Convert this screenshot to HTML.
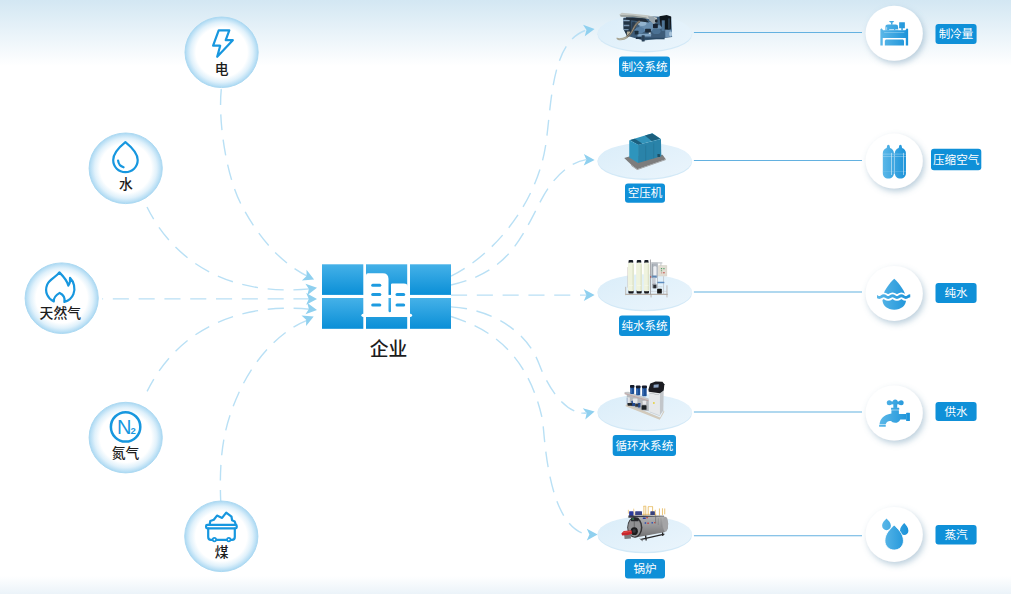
<!DOCTYPE html>
<html><head><meta charset="utf-8"><title>diagram</title>
<style>html,body{margin:0;padding:0;background:#fff}body{width:1011px;height:594px;overflow:hidden;font-family:"Liberation Sans",sans-serif}svg{display:block}</style>
</head><body>
<svg width="1011" height="594" viewBox="0 0 1011 594"><defs>
<linearGradient id="bgTop" x1="0" y1="0" x2="0" y2="1"><stop offset="0" stop-color="#d3e7f3"/><stop offset="1" stop-color="#ffffff"/></linearGradient>
<linearGradient id="bgBot" x1="0" y1="0" x2="0" y2="1"><stop offset="0" stop-color="#ffffff"/><stop offset="1" stop-color="#ebf3f9"/></linearGradient>
<linearGradient id="tile" x1="0" y1="0" x2="0" y2="1"><stop offset="0" stop-color="#45b1e8"/><stop offset="1" stop-color="#0a8fd7"/></linearGradient>
<radialGradient id="glow" cx="0.5" cy="0.5" r="0.5"><stop offset="0" stop-color="#ffffff"/><stop offset="0.70" stop-color="#ffffff"/><stop offset="0.85" stop-color="#e0f1fb"/><stop offset="0.96" stop-color="#b9dff5"/><stop offset="1" stop-color="#aad8f2"/></radialGradient>
<linearGradient id="plat" x1="0" y1="0" x2="1" y2="1"><stop offset="0" stop-color="#daedf9"/><stop offset="1" stop-color="#ebf5fc"/></linearGradient>
<linearGradient id="ico" x1="0" y1="0" x2="1" y2="0"><stop offset="0" stop-color="#55b4e6"/><stop offset="1" stop-color="#1f93d8"/></linearGradient>
<filter id="sh" x="-40%" y="-40%" width="180%" height="180%"><feGaussianBlur in="SourceAlpha" stdDeviation="3.4"/><feOffset dx="1.5" dy="2.5" result="b"/><feFlood flood-color="#6c97b4" flood-opacity="0.46"/><feComposite in2="b" operator="in"/><feMerge><feMergeNode/><feMergeNode in="SourceGraphic"/></feMerge></filter>
<path id="ah" d="M0,0 L-10.8,-5.8 L-8.2,0 L-10.8,5.8 Z"/>
</defs>
<rect width="1011" height="594" fill="#fff"/>
<rect width="1011" height="66" fill="url(#bgTop)"/>
<rect y="576" width="1011" height="18" fill="url(#bgBot)"/>
<path d="M308.1,276.6 C287.1,266.4 260.9,243.9 240.2,202.5 C227.1,176.4 217.8,123.2 221.3,89.0" fill="none" stroke="#b9e0f5" stroke-width="1.4" stroke-dasharray="15.8 9.5" stroke-dashoffset="0"/>
<use href="#ah" fill="#8fd0ef" transform="translate(314.1,279.4) rotate(23.6)"/>
<path d="M309.5,288.9 C228.6,296.5 173.8,261.3 147.0,207.0" fill="none" stroke="#b9e0f5" stroke-width="1.4" stroke-dasharray="16.1 9.7" stroke-dashoffset="0"/>
<use href="#ah" fill="#8fd0ef" transform="translate(317,287.8) rotate(-9)"/>
<path d="M309.5,298.9 L102.2,298.9" fill="none" stroke="#b9e0f5" stroke-width="1.4" stroke-dasharray="16.1 9.7" stroke-dashoffset="0"/>
<use href="#ah" fill="#8fd0ef" transform="translate(317,298.9) rotate(0)"/>
<path d="M309.5,309.3 C285.2,306.6 191.6,301.7 147.1,391.4" fill="none" stroke="#b9e0f5" stroke-width="1.4" stroke-dasharray="16.1 9.7" stroke-dashoffset="0"/>
<use href="#ah" fill="#8fd0ef" transform="translate(317,310.1) rotate(8.4)"/>
<path d="M307.6,320.1 C279.3,331.2 253.7,359.9 239.1,392.3 C226.2,420.7 218.6,447.6 220.7,501" fill="none" stroke="#b9e0f5" stroke-width="1.4" stroke-dasharray="15.8 9.5" stroke-dashoffset="0"/>
<use href="#ah" fill="#8fd0ef" transform="translate(313.7,316.4) rotate(-23.5)"/>
<path d="M451.0,276.2 C496.3,253.3 536.3,202.5 545.4,146.8 C551.8,107.1 549.9,42.1 586.2,30.2" fill="none" stroke="#b9e0f5" stroke-width="1.4" stroke-dasharray="15.8 9.5" stroke-dashoffset="0"/>
<use href="#ah" fill="#8fd0ef" transform="translate(594.6,28.9) rotate(-8.5)"/>
<path d="M451.0,285.0 C507.3,272.1 520.1,240.9 541.4,199.6 C551.7,179.6 568,162.5 586.2,159.6" fill="none" stroke="#b9e0f5" stroke-width="1.4" stroke-dasharray="15.9 9.5" stroke-dashoffset="0"/>
<use href="#ah" fill="#8fd0ef" transform="translate(594.6,160) rotate(1)"/>
<path d="M451,295.1 L586.4,295.1" fill="none" stroke="#b9e0f5" stroke-width="1.4" stroke-dasharray="16.1 9.7" stroke-dashoffset="0"/>
<use href="#ah" fill="#8fd0ef" transform="translate(594.6,295.1) rotate(0)"/>
<path d="M451.0,306.9 C490.2,308.9 526.3,329.9 538.9,363.6 C545.4,380.8 562.6,415.3 587.0,413.2" fill="none" stroke="#b9e0f5" stroke-width="1.4" stroke-dasharray="16.1 9.7" stroke-dashoffset="0"/>
<use href="#ah" fill="#8fd0ef" transform="translate(594.6,411.5) rotate(-12.4)"/>
<path d="M451.0,316.5 C483.6,326.9 526.4,347.3 542.3,418.8 C544.7,429.1 545.9,530.2 589.6,534.9" fill="none" stroke="#b9e0f5" stroke-width="1.4" stroke-dasharray="15.9 9.5" stroke-dashoffset="0"/>
<use href="#ah" fill="#8fd0ef" transform="translate(597.6,534.6) rotate(0)"/>
<path d="M581.3,413.1 L587,413.2" stroke="#b9e0f5" stroke-width="1.4" fill="none"/>
<ellipse cx="221.6" cy="52.3" rx="36.6" ry="35.3" fill="url(#glow)" stroke="#acd9f2" stroke-width="1"/>
<ellipse cx="125.7" cy="168.3" rx="36.6" ry="35.3" fill="url(#glow)" stroke="#acd9f2" stroke-width="1"/>
<ellipse cx="61.7" cy="298.2" rx="36.6" ry="35.3" fill="url(#glow)" stroke="#acd9f2" stroke-width="1"/>
<ellipse cx="125.7" cy="437.6" rx="36.6" ry="35.3" fill="url(#glow)" stroke="#acd9f2" stroke-width="1"/>
<ellipse cx="221.3" cy="536.3" rx="36.6" ry="35.3" fill="url(#glow)" stroke="#acd9f2" stroke-width="1"/>
<rect x="322" y="264.3" width="41.3" height="30.6" fill="url(#tile)"/>
<rect x="322" y="298" width="41.3" height="30.8" fill="url(#tile)"/>
<rect x="366" y="264.3" width="41.2" height="30.6" fill="url(#tile)"/>
<rect x="366" y="298" width="41.2" height="30.8" fill="url(#tile)"/>
<rect x="410" y="264.3" width="41.0" height="30.6" fill="url(#tile)"/>
<rect x="410" y="298" width="41.0" height="30.8" fill="url(#tile)"/>
<ellipse cx="644.8" cy="34.2" rx="47.3" ry="18.2" fill="#d3e9f7"/>
<ellipse cx="644.8" cy="33.2" rx="47.2" ry="17.8" fill="url(#plat)"/>
<ellipse cx="644.8" cy="161.7" rx="47.3" ry="18.2" fill="#d3e9f7"/>
<ellipse cx="644.8" cy="160.7" rx="47.2" ry="17.8" fill="url(#plat)"/>
<ellipse cx="644.8" cy="293.09999999999997" rx="47.3" ry="18.2" fill="#d3e9f7"/>
<ellipse cx="644.8" cy="292.09999999999997" rx="47.2" ry="17.8" fill="url(#plat)"/>
<ellipse cx="644.8" cy="413.09999999999997" rx="47.3" ry="18.2" fill="#d3e9f7"/>
<ellipse cx="644.8" cy="412.09999999999997" rx="47.2" ry="17.8" fill="url(#plat)"/>
<ellipse cx="644.8" cy="535.1" rx="47.3" ry="18.2" fill="#d3e9f7"/>
<ellipse cx="644.8" cy="534.1" rx="47.2" ry="17.8" fill="url(#plat)"/>
<line x1="693.9" y1="32.55" x2="862" y2="32.55" stroke="#63b1e0" stroke-width="1.05"/>
<line x1="693.9" y1="160.45" x2="862" y2="160.45" stroke="#63b1e0" stroke-width="1.05"/>
<line x1="693.9" y1="291.95" x2="862" y2="291.95" stroke="#63b1e0" stroke-width="1.05"/>
<line x1="693.9" y1="412.05" x2="862" y2="412.05" stroke="#63b1e0" stroke-width="1.05"/>
<line x1="693.9" y1="535.65" x2="862" y2="535.65" stroke="#63b1e0" stroke-width="1.05"/>
<ellipse cx="894.2" cy="33.3" rx="28.6" ry="27.5" fill="#fff" filter="url(#sh)"/>
<ellipse cx="894.2" cy="161.1" rx="28.6" ry="27.5" fill="#fff" filter="url(#sh)"/>
<ellipse cx="894.2" cy="293.4" rx="28.6" ry="27.5" fill="#fff" filter="url(#sh)"/>
<ellipse cx="894.2" cy="413" rx="28.6" ry="27.5" fill="#fff" filter="url(#sh)"/>
<ellipse cx="894.2" cy="534.4" rx="28.6" ry="27.5" fill="#fff" filter="url(#sh)"/>
<rect x="619" y="56.4" width="51.0" height="20.6" rx="3" fill="#0f90d8"/>
<text x="621.40" y="70.86" font-family="'Liberation Sans','Noto Sans CJK SC',sans-serif" font-size="11.55" fill="#fff">制冷系统</text>
<rect x="625" y="183.6" width="40.0" height="19.2" rx="3" fill="#0f90d8"/>
<text x="627.67" y="197.36" font-family="'Liberation Sans','Noto Sans CJK SC',sans-serif" font-size="11.55" fill="#fff">空压机</text>
<rect x="619" y="315.5" width="51.0" height="20.5" rx="3" fill="#0f90d8"/>
<text x="621.40" y="329.91" font-family="'Liberation Sans','Noto Sans CJK SC',sans-serif" font-size="11.55" fill="#fff">纯水系统</text>
<rect x="612.7" y="435" width="63.3" height="21.0" rx="3" fill="#0f90d8"/>
<text x="615.48" y="449.66" font-family="'Liberation Sans','Noto Sans CJK SC',sans-serif" font-size="11.55" fill="#fff">循环水系统</text>
<rect x="625" y="559" width="40.0" height="19.6" rx="3" fill="#0f90d8"/>
<text x="633.45" y="572.96" font-family="'Liberation Sans','Noto Sans CJK SC',sans-serif" font-size="11.55" fill="#fff">锅炉</text>
<rect x="935.5" y="24" width="41.1" height="20.0" rx="3" fill="#0f90d8"/>
<text x="938.72" y="38.16" font-family="'Liberation Sans','Noto Sans CJK SC',sans-serif" font-size="11.55" fill="#fff">制冷量</text>
<rect x="931" y="148.7" width="50.3" height="21.5" rx="3" fill="#0f90d8"/>
<text x="933.05" y="163.61" font-family="'Liberation Sans','Noto Sans CJK SC',sans-serif" font-size="11.55" fill="#fff">压缩空气</text>
<rect x="935.5" y="283" width="41.1" height="20.0" rx="3" fill="#0f90d8"/>
<text x="944.50" y="297.16" font-family="'Liberation Sans','Noto Sans CJK SC',sans-serif" font-size="11.55" fill="#fff">纯水</text>
<rect x="935.5" y="402" width="41.1" height="19.0" rx="3" fill="#0f90d8"/>
<text x="944.50" y="415.66" font-family="'Liberation Sans','Noto Sans CJK SC',sans-serif" font-size="11.55" fill="#fff">供水</text>
<rect x="935.5" y="525" width="41.1" height="19.4" rx="3" fill="#0f90d8"/>
<text x="944.50" y="538.86" font-family="'Liberation Sans','Noto Sans CJK SC',sans-serif" font-size="11.55" fill="#fff">蒸汽</text>
<text x="214.70" y="73.60" font-family="'Liberation Sans','Noto Sans CJK SC',sans-serif" font-size="13.8" font-weight="500" fill="#1c1c1c">电</text>
<text x="118.90" y="189.10" font-family="'Liberation Sans','Noto Sans CJK SC',sans-serif" font-size="13.8" font-weight="500" fill="#1c1c1c">水</text>
<text x="39.60" y="318.10" font-family="'Liberation Sans','Noto Sans CJK SC',sans-serif" font-size="13.8" font-weight="500" fill="#1c1c1c">天然气</text>
<text x="111.70" y="457.70" font-family="'Liberation Sans','Noto Sans CJK SC',sans-serif" font-size="13.8" font-weight="500" fill="#1c1c1c">氮气</text>
<text x="214.70" y="557.30" font-family="'Liberation Sans','Noto Sans CJK SC',sans-serif" font-size="13.8" font-weight="500" fill="#1c1c1c">煤</text>
<text x="369.85" y="355.50" font-family="'Liberation Sans','Noto Sans CJK SC',sans-serif" font-size="18.8" font-weight="500" fill="#1c1c1c">企业</text>
<path fill="none" stroke="#1797df" stroke-width="2.2" stroke-linejoin="round" stroke-linecap="round" d="M218.7,30.3 L229.3,30.3 L225.7,40.2 L232.8,40.2 L217.2,56.8 L220.2,45.7 L213.1,45.7 Z"/>
<path fill="none" stroke="#1797df" stroke-width="2.2" stroke-linejoin="round" stroke-linecap="round" stroke-width="2.4" d="M125.4,142.1 C131,146.6 137.7,152.6 137.7,160 C137.7,167 132.2,172.1 125.4,172.1 C118.6,172.1 113.2,167 113.2,160 C113.2,152.6 119.8,146.6 125.4,142.1 Z"/>
<path fill="none" stroke="#1797df" stroke-width="2.2" stroke-linejoin="round" stroke-linecap="round" stroke-width="2" d="M118.1,160.7 C118.5,164 120.6,166.4 123.6,167.3"/>
<path fill="none" stroke="#1797df" stroke-width="2.2" stroke-linejoin="round" stroke-linecap="round" d="M53.8,301.5 C47.6,298.7 44.4,291.7 47.1,284.8 C49.6,278.8 56.4,277 59.4,272.4 C63,276 67.2,280.4 68.3,285.6 C69.9,283.4 70.4,280.4 70,277.9 C74,281.8 75.6,288.4 73.4,294.2 C72,297.8 68.6,300.8 64.4,301.9 C65.2,297.9 63.3,294.6 59.7,292.9 C56.1,295 53.4,297.6 53.8,301.5 Z"/>
<circle cx="125.6" cy="426.9" r="14.7" fill="none" stroke="#1797df" stroke-width="2.5"/>
<text x="117.1" y="433.8" font-family="Liberation Sans, sans-serif" font-size="20" fill="#1797df">N</text>
<text x="130.6" y="433.9" font-family="Liberation Sans, sans-serif" font-size="9.5" font-weight="bold" fill="#1797df">2</text>
<path fill="none" stroke="#1797df" stroke-width="2.2" stroke-linejoin="round" stroke-linecap="round" d="M209.7,524.2 L210.3,521 L213.8,519.7 L217,515.6 L222.1,517.9 L226.2,512.6 L231.5,516.7 L232.1,520.3 L234.7,521.5 L235.6,524.2"/>
<rect x="206.1" y="524.9" width="30.6" height="3.4" rx="1" fill="none" stroke="#1797df" stroke-width="2.2" stroke-linejoin="round" stroke-linecap="round"/>
<path fill="none" stroke="#1797df" stroke-width="2.2" stroke-linejoin="round" stroke-linecap="round" d="M208.2,528.5 L208.2,537 Q208.2,539.8 211,539.8 L232,539.8 Q234.8,539.8 234.8,537 L234.8,528.5"/>
<circle cx="214.4" cy="539.6" r="1.7" fill="#fff" stroke="#1797df" stroke-width="1.7"/>
<circle cx="228.8" cy="539.6" r="1.7" fill="#fff" stroke="#1797df" stroke-width="1.7"/>
<path fill="#ffffff" d="M366,314 L366,275.3 Q366,273.3 368,273.3 L382.8,273.3 Q388.5,273.3 388.5,279 L388.5,314 Z"/>
<path fill="#ffffff" d="M391,314 L391,284.6 Q391,283.4 392.2,283.4 L403.8,283.4 Q408.1,283.4 408.1,287.7 L408.1,314 Z"/>
<path fill="#ffffff" d="M388,314 L388,311 Q389.75,313.6 391.5,311 L391.5,314 Z"/>
<rect x="361.4" y="313.7" width="50.7" height="3.2" rx="1.6" fill="#ffffff"/>
<rect x="371.2" y="283.7" width="10.1" height="3" rx="1.5" fill="#1d9be0"/>
<rect x="371.2" y="293.1" width="10.1" height="3" rx="1.5" fill="#1d9be0"/>
<rect x="371.2" y="303.6" width="10.1" height="3" rx="1.5" fill="#1d9be0"/>
<rect x="395.5" y="293.1" width="9.7" height="3" rx="1.5" fill="#1d9be0"/>
<rect x="395.5" y="303.6" width="9.7" height="3" rx="1.5" fill="#1d9be0"/>
<filter id="mb" x="-5%" y="-5%" width="110%" height="110%"><feGaussianBlur stdDeviation="6"/></filter>
<g transform="translate(612,8) scale(0.06925)" filter="url(#mb)"><polygon points="165,140 500,120 700,128 855,130 868,420 700,442 460,470 350,440 215,400 165,300" fill="#3d5c79" /><polygon points="165,150 275,150 285,350 215,400 170,310" fill="#243444" /><rect x="160" y="168" width="95" height="24" rx="4" fill="#86a4be" /><rect x="165" y="242" width="85" height="22" rx="4" fill="#7593ae" /><rect x="170" y="302" width="70" height="20" rx="4" fill="#7290ab" /><rect x="215" y="340" width="47" height="62" rx="6" fill="#b5af9a" /><ellipse cx="520" cy="270" rx="125" ry="72" fill="#6a8fb0" /><ellipse cx="435" cy="222" rx="62" ry="38" fill="#93b3ce" /><ellipse cx="400" cy="322" rx="72" ry="46" fill="#587fa3" /><rect x="368" y="372" width="197" height="40" rx="8" fill="#7ea2c2" /><ellipse cx="640" cy="335" rx="62" ry="42" fill="#4c7193" /><ellipse cx="545" cy="362" rx="16" ry="14" fill="#dfe8ee" /><rect x="600" y="250" width="120" height="50" rx="10" fill="#6d92b4" /><rect x="478" y="298" width="84" height="54" rx="10" fill="#1b2a38" /><rect x="592" y="228" width="70" height="64" rx="10" fill="#182430" /><rect x="328" y="328" width="54" height="54" rx="8" fill="#1f2e3b" /><rect x="428" y="395" width="44" height="87" rx="4" fill="#2a4157" /><rect x="345" y="420" width="80" height="28" rx="0" fill="#22364a" /><rect x="470" y="430" width="290" height="22" rx="0" fill="#2b4964" /><rect x="290" y="200" width="50" height="100" rx="8" fill="#2a3d50" /><polygon points="685,120 790,102 854,124 848,302 765,324 702,258" fill="#10161c" /><rect x="718" y="178" width="44" height="154" rx="0" fill="#4f7496" /><rect x="808" y="150" width="28" height="150" rx="0" fill="#263a4c" /><polygon points="768,310 862,320 868,412 770,426" fill="#6f94b5" /><ellipse cx="846" cy="375" rx="22" ry="36" fill="#a9c4da" /><polygon points="105,97 140,70 300,84 520,106 652,140 645,190 590,172 480,148 300,130 130,128" fill="#c3c7c3" /><polygon points="205,132 480,150 535,208 300,180 200,162" fill="#222e3a" /><polygon points="118,106 300,110 500,136 500,152 300,129 124,124" fill="#8c9492" /><polygon points="520,118 605,130 655,200 602,232 540,182" fill="#9aa6ae" /><ellipse cx="640" cy="186" rx="20" ry="24" fill="#1a232b" /><path d="M395,195 C300,250 310,370 215,415" fill="none" stroke="#5f5a52" stroke-width="30" stroke-linecap="round"/><path d="M395,195 C300,250 310,370 215,415" fill="none" stroke="#a39c8c" stroke-width="12" stroke-linecap="round" stroke-dasharray="14 12"/><path d="M215,415 C160,438 100,452 72,436 C80,470 170,465 215,430" fill="none" stroke="#a8a594" stroke-width="16" stroke-linecap="round" stroke-linejoin="round"/></g>
<g transform="translate(612,128) scale(0.08413)" filter="url(#mb)"><polygon points="145,358 205,340 600,318 640,370 300,490 232,440" fill="#7d7d7d" /><polygon points="232,440 300,490 640,372 640,380 300,500 228,448" fill="#9a9a9a" /><polygon points="205,145 310,200 310,415 205,352" fill="#2f95bd" /><polygon points="310,200 582,130 586,335 310,415" fill="#2983a9" /><polygon points="205,145 480,62 582,130 310,200" fill="#3093ba" /><polygon points="218,142 272,127 360,185 312,198" fill="#1e5f7d" /><polygon points="392,90 478,64 572,127 472,156" fill="#1e5f7d" /><line x1="400" y1="208" x2="400" y2="390" stroke="#226d8d" stroke-width="5" /><line x1="495" y1="185" x2="495" y2="362" stroke="#226d8d" stroke-width="5" /><line x1="310" y1="200" x2="310" y2="415" stroke="#35a0c8" stroke-width="3" /><rect x="540" y="310" width="30" height="35" rx="4" fill="#1e4f66" /></g>
<g transform="translate(620,255) scale(0.07576)" filter="url(#mb)"><line x1="75" y1="420" x2="75" y2="530" stroke="#b4aca4" stroke-width="10" /><line x1="100" y1="160" x2="100" y2="430" stroke="#c0b8b0" stroke-width="6" /><line x1="70" y1="520" x2="630" y2="520" stroke="#b8b0a8" stroke-width="14" /><line x1="410" y1="520" x2="410" y2="560" stroke="#a8a09a" stroke-width="10" /><line x1="620" y1="400" x2="620" y2="560" stroke="#b0a8a2" stroke-width="10" /><line x1="402" y1="60" x2="402" y2="520" stroke="#9c9ca0" stroke-width="12" /><line x1="575" y1="280" x2="575" y2="520" stroke="#b4b4b8" stroke-width="8" /><line x1="410" y1="480" x2="620" y2="480" stroke="#c0c0c4" stroke-width="6" /><rect x="415" y="100" width="85" height="200" rx="6" fill="#aeb4bc" /><rect x="440" y="150" width="42" height="200" rx="14" fill="#eef0f4" /><rect x="418" y="270" width="67" height="30" rx="4" fill="#5c86b4" /><rect x="488" y="352" width="97" height="20" rx="3" fill="#5c8cc0" /><rect x="420" y="300" width="50" height="140" rx="6" fill="#c8ccd4" /><rect x="430" y="380" width="50" height="60" rx="6" fill="#8c9098" /><rect x="410" y="95" width="150" height="17" rx="4" fill="#c4c8cc" /><rect x="505" y="135" width="117" height="147" rx="4" fill="#d8d4ca" /><rect x="512" y="142" width="103" height="133" rx="3" fill="#e0dcd2" /><ellipse cx="548" cy="180" rx="9" ry="8" fill="#3f9a5c" /><ellipse cx="580" cy="180" rx="9" ry="8" fill="#3f9a5c" /><ellipse cx="548" cy="208" rx="9" ry="8" fill="#4a9a60" /><ellipse cx="580" cy="235" rx="10" ry="9" fill="#c4423c" /><ellipse cx="550" cy="235" rx="9" ry="8" fill="#c89088" /><rect x="490" y="445" width="62" height="63" rx="8" fill="#161616" /><ellipse cx="405" cy="290" rx="8" ry="8" fill="#c03030" /><line x1="425" y1="120" x2="425" y2="300" stroke="#8a9098" stroke-width="8" /><line x1="495" y1="300" x2="495" y2="445" stroke="#a4a8b0" stroke-width="8" /><line x1="420" y1="420" x2="560" y2="420" stroke="#b4b8bc" stroke-width="6" /><rect x="440" y="395" width="40" height="45" rx="6" fill="#2a2e34" /><line x1="540" y1="110" x2="540" y2="140" stroke="#9aa0a8" stroke-width="8" /><rect x="113" y="65" width="61" height="50" rx="14" fill="#141a24" /><rect x="111" y="455" width="69" height="53" rx="12" fill="#16181c" /><rect x="105" y="100" width="81" height="380" rx="26" fill="#eff3de" /><rect x="164" y="120" width="18" height="345" rx="10" fill="#dde2c8" /><rect x="117" y="395" width="57" height="7" rx="3" fill="#fafcf0" /><rect x="221" y="65" width="59" height="50" rx="14" fill="#141a24" /><rect x="219" y="455" width="67" height="53" rx="12" fill="#16181c" /><rect x="213" y="100" width="79" height="380" rx="26" fill="#eff3de" /><rect x="270" y="120" width="18" height="345" rx="10" fill="#dde2c8" /><rect x="225" y="395" width="55" height="7" rx="3" fill="#fafcf0" /><rect x="321" y="65" width="55" height="50" rx="14" fill="#141a24" /><rect x="319" y="455" width="63" height="53" rx="12" fill="#16181c" /><rect x="313" y="100" width="75" height="380" rx="26" fill="#eff3de" /><rect x="366" y="120" width="18" height="345" rx="10" fill="#dde2c8" /><rect x="325" y="395" width="51" height="7" rx="3" fill="#fafcf0" /></g>
<g transform="translate(620,378) scale(0.07576)" filter="url(#mb)"><polygon points="75,355 100,340 530,520 580,425 585,445 525,550 75,372" fill="#d2cabc" /><polygon points="90,200 380,290 380,440 300,430 90,350" fill="#b4b8bc" /><polygon points="60,185 110,180 380,270 380,300 60,215" fill="#c4c6c8" /><line x1="62" y1="205" x2="375" y2="300" stroke="#c06058" stroke-width="4" /><rect x="150" y="300" width="50" height="70" rx="6" fill="#24488c" /><rect x="235" y="330" width="35" height="60" rx="6" fill="#28488a" /><rect x="100" y="330" width="60" height="35" rx="6" fill="#22262a" /><rect x="285" y="360" width="65" height="60" rx="8" fill="#1e2226" /><rect x="200" y="340" width="40" height="40" rx="6" fill="#30343a" /><rect x="170" y="270" width="60" height="60" rx="10" fill="#e4e6e8" /><rect x="300" y="300" width="45" height="50" rx="8" fill="#e8e8ea" /><rect x="90" y="255" width="40" height="75" rx="6" fill="#dfe3e6" /><line x1="95" y1="260" x2="95" y2="340" stroke="#3a62a4" stroke-width="5" /><rect x="135" y="98" width="52" height="114" rx="10" fill="#1e4f96" /><rect x="132" y="92" width="58" height="36" rx="10" fill="#141c2c" /><rect x="143" y="138" width="12" height="64" rx="4" fill="#3f74bc" /><rect x="213" y="104" width="54" height="124" rx="10" fill="#1e4f96" /><rect x="210" y="98" width="60" height="36" rx="10" fill="#141c2c" /><rect x="221" y="144" width="12" height="74" rx="4" fill="#3f74bc" /><rect x="293" y="104" width="59" height="136" rx="10" fill="#1e4f96" /><rect x="290" y="98" width="65" height="36" rx="10" fill="#141c2c" /><rect x="301" y="144" width="12" height="86" rx="4" fill="#3f74bc" /><polygon points="380,180 527,200 527,492 386,440" fill="#e6e8ea" /><polygon points="527,200 577,165 572,430 527,492" fill="#c2c6ca" /><polygon points="392,200 515,217 515,222 392,205" fill="#70747a" /><polygon points="375,152 400,72 470,45 560,50 586,82 577,165 527,200 380,180" fill="#1a1c20" /><polygon points="445,88 512,84 508,124 442,128" fill="#8ea4c4" /><ellipse cx="447" cy="330" rx="12" ry="12" fill="#e6d23c" /><polygon points="386,440 527,492 527,505 386,452" fill="#cfd2d6" /></g>
<g transform="translate(617,503) scale(0.07576)" filter="url(#mb)"><line x1="355" y1="40" x2="355" y2="170" stroke="#e2aa3a" stroke-width="9" /><line x1="380" y1="45" x2="380" y2="165" stroke="#e2aa3a" stroke-width="9" /><line x1="412" y1="50" x2="412" y2="160" stroke="#e2aa3a" stroke-width="9" /><line x1="470" y1="48" x2="470" y2="160" stroke="#e2aa3a" stroke-width="9" /><line x1="505" y1="90" x2="505" y2="185" stroke="#e2aa3a" stroke-width="9" /><line x1="560" y1="72" x2="560" y2="165" stroke="#e2aa3a" stroke-width="9" /><line x1="600" y1="70" x2="600" y2="160" stroke="#e2aa3a" stroke-width="9" /><line x1="630" y1="72" x2="630" y2="150" stroke="#e2aa3a" stroke-width="9" /><line x1="350" y1="42" x2="385" y2="42" stroke="#e2aa3a" stroke-width="8" /><line x1="410" y1="48" x2="472" y2="48" stroke="#e2aa3a" stroke-width="8" /><line x1="150" y1="90" x2="150" y2="140" stroke="#e2aa3a" stroke-width="7" /><line x1="220" y1="75" x2="225" y2="150" stroke="#e2aa3a" stroke-width="7" /><line x1="230" y1="150" x2="520" y2="150" stroke="#d8a640" stroke-width="8" /><rect x="160" y="108" width="58" height="74" rx="8" fill="#2b3a9c" /><rect x="240" y="110" width="90" height="50" rx="6" fill="#3a4488" /><rect x="440" y="110" width="60" height="50" rx="6" fill="#38427c" /><polygon points="150,165 620,168 625,190 150,195" fill="#3a3c44" /><line x1="320" y1="480" x2="625" y2="410" stroke="#262628" stroke-width="16" /><line x1="375" y1="410" x2="385" y2="495" stroke="#262628" stroke-width="18" /><line x1="598" y1="370" x2="605" y2="435" stroke="#262628" stroke-width="16" /><line x1="300" y1="470" x2="340" y2="500" stroke="#3a3a3c" stroke-width="10" /><linearGradient id="blr" x1="0" y1="0" x2="0" y2="1"><stop offset="0" stop-color="#b2b2b2"/><stop offset="0.5" stop-color="#949496"/><stop offset="1" stop-color="#707072"/></linearGradient><polygon points="235,188 615,176 655,205 675,270 668,340 625,385 300,445 235,455" fill="url(#blr)" /><ellipse cx="640" cy="280" rx="35" ry="100" fill="#a4a4a6" /><ellipse cx="235" cy="322" rx="100" ry="136" fill="#343436" /><ellipse cx="231" cy="322" rx="84" ry="122" fill="#909092" /><rect x="185" y="195" width="100" height="45" rx="6" fill="#26282c" /><rect x="195" y="205" width="30" height="13" rx="3" fill="#38a058" /><line x1="228" y1="240" x2="228" y2="330" stroke="#3a3a3c" stroke-width="6" /><ellipse cx="228" cy="372" rx="47" ry="52" fill="#1c1c1e" /><ellipse cx="226" cy="368" rx="22" ry="26" fill="#38383c" /><rect x="340" y="190" width="40" height="20" rx="4" fill="#2c3c9c" /><rect x="385" y="188" width="25" height="12" rx="3" fill="#c83030" /><rect x="365" y="255" width="20" height="20" rx="4" fill="#2c4cb0" /><rect x="400" y="258" width="20" height="18" rx="4" fill="#c83838" /><rect x="455" y="252" width="20" height="18" rx="4" fill="#3050b0" /><rect x="490" y="250" width="15" height="18" rx="4" fill="#c84040" /><line x1="510" y1="180" x2="510" y2="270" stroke="#3a3a3c" stroke-width="5" /><line x1="545" y1="200" x2="545" y2="290" stroke="#6a6a6e" stroke-width="5" /><line x1="580" y1="200" x2="585" y2="320" stroke="#7a7a7e" stroke-width="5" /><polygon points="95,420 180,410 185,470 100,475" fill="#7c7c7e" /><polygon points="58,402 90,370 192,360 202,402 150,424 68,428" fill="#c9282e" /><polygon points="70,392 100,376 185,368 188,380 100,392" fill="#e2504a" /></g>
<g transform="translate(869,8) scale(0.08418)"><linearGradient id="g1" gradientUnits="userSpaceOnUse" x1="130" y1="0" x2="470" y2="0"><stop offset="0" stop-color="#5cb8e8"/><stop offset="1" stop-color="#1a92d9"/></linearGradient><path fill="url(#g1)" d="M135,252 L149,241 L168,265 L432,265 L451,241 L465,252 L465,445 L437,445 L437,356 L163,356 L163,445 L135,445 Z"/><path fill="url(#g1)" d="M200,375 L404,375 L416,388 L416,445 L188,445 L188,388 Z"/><rect x="180" y="286" width="240" height="6" fill="#bfe3f6" opacity="0.8"/><path fill="url(#g1)" d="M195,268 L195,225 Q195,196 225,196 L318,196 Q346,196 346,225 L346,268 Z"/><rect x="240" y="252" width="58" height="10" fill="#d6edf9"/><rect x="312" y="252" width="34" height="10" fill="#d6edf9"/><rect x="205" y="228" width="10" height="32" fill="#d6edf9" opacity="0.8"/><rect x="261" y="168" width="18" height="30" fill="url(#g1)"/><path fill="url(#g1)" d="M237,154 L299,154 L286,173 L251,173 Z"/><rect x="358" y="170" width="68" height="70" rx="3" fill="url(#g1)"/><rect x="384" y="238" width="17" height="28" fill="url(#g1)"/></g>
<g transform="translate(869,136) scale(0.08418)"><linearGradient id="g2" gradientUnits="userSpaceOnUse" x1="160" y1="0" x2="445" y2="0"><stop offset="0" stop-color="#5cb8e8"/><stop offset="1" stop-color="#1a92d9"/></linearGradient><rect x="285" y="200" width="30" height="250" fill="#9ed1f0"/><path fill="url(#g2)" d="M216,112 Q230,96 244,112 L250,142 C278,152 296,172 296,204 L296,440 C296,482 270,506 230,506 C190,506 164,482 164,440 L164,204 C164,172 182,152 210,142 Z"/><rect x="164" y="212" width="132" height="5" fill="#c8e6f7" opacity="0.9"/><rect x="164" y="243" width="132" height="5" fill="#c8e6f7" opacity="0.9"/><rect x="164" y="418" width="132" height="5" fill="#7cc4ec" opacity="0.9"/><rect x="265" y="200" width="7" height="262" rx="3" fill="#e4f3fb"/><path fill="url(#g2)" d="M359,112 Q373,96 387,112 L393,142 C421,152 439,172 439,204 L439,440 C439,482 413,506 373,506 C333,506 307,482 307,440 L307,204 C307,172 325,152 353,142 Z"/><rect x="307" y="212" width="132" height="5" fill="#c8e6f7" opacity="0.9"/><rect x="307" y="243" width="132" height="5" fill="#c8e6f7" opacity="0.9"/><rect x="307" y="418" width="132" height="5" fill="#7cc4ec" opacity="0.9"/><rect x="408" y="200" width="7" height="262" rx="3" fill="#e4f3fb"/></g>
<g transform="translate(869,268) scale(0.08418)"><linearGradient id="g3" gradientUnits="userSpaceOnUse" x1="95" y1="0" x2="490" y2="0"><stop offset="0" stop-color="#5cb8e8"/><stop offset="1" stop-color="#1a92d9"/></linearGradient><path fill="url(#g3)" d="M300,128 C345,170 441,278 441,372 C441,450 380,496 300,496 C220,496 159,450 159,372 C159,278 255,170 300,128 Z"/><clipPath id="cw"><rect x="95" y="250" width="395" height="200"/></clipPath><path d="M43.5,340 q26.25,-20 52.5,0 t52.5,0 t52.5,0 t52.5,0 t52.5,0 t52.5,0 t52.5,0 t52.5,0 t52.5,0" fill="none" stroke="#fff" stroke-width="76" clip-path="url(#cw)"/><path d="M43.5,340 q26.25,-20 52.5,0 t52.5,0 t52.5,0 t52.5,0 t52.5,0 t52.5,0 t52.5,0 t52.5,0 t52.5,0" fill="none" stroke="url(#g3)" stroke-width="33" clip-path="url(#cw)"/></g>
<g transform="translate(869,388) scale(0.08418)"><linearGradient id="g4" gradientUnits="userSpaceOnUse" x1="120" y1="0" x2="490" y2="0"><stop offset="0" stop-color="#5cb8e8"/><stop offset="1" stop-color="#1a92d9"/></linearGradient><circle cx="241" cy="176" r="30" fill="url(#g4)"/><circle cx="311" cy="166" r="30" fill="url(#g4)"/><circle cx="382" cy="176" r="30" fill="url(#g4)"/><rect x="240" y="160" width="142" height="34" fill="url(#g4)"/><rect x="289" y="185" width="46" height="52" fill="url(#g4)"/><rect x="262" y="234" width="97" height="24" rx="3" fill="url(#g4)"/><path fill="url(#g4)" d="M266,264 L355,264 L355,310 L442,310 L442,373 L372,373 C360,400 336,413 310,413 C286,413 270,402 261,393 C236,386 211,396 198,431 L125,431 C135,370 166,321 266,304 Z"/><rect x="441" y="295" width="45" height="98" rx="6" fill="url(#g4)"/><rect x="120" y="438" width="79" height="23" rx="3" fill="url(#g4)"/></g>
<g transform="translate(869,510) scale(0.08418)"><linearGradient id="g5" gradientUnits="userSpaceOnUse" x1="150" y1="0" x2="470" y2="0"><stop offset="0" stop-color="#5cb8e8"/><stop offset="1" stop-color="#1a92d9"/></linearGradient><path fill="url(#g5)" d="M208,100 C227.76,121.0 260,145.36 260,188 C260,217.12 237.12,240 208,240 C178.88,240 156,217.12 156,188 C156,145.36 188.24,121.0 208,100 Z"/><path fill="url(#g5)" d="M418,155 C437.0,176.15 468,205.0 468,246 C468,274.0 446.0,296 418,296 C390.0,296 368,274.0 368,246 C368,205.0 399.0,176.15 418,155 Z"/><path fill="url(#g5)" stroke="#fff" stroke-width="10" d="M299,178 C340.8,222.7 409,275.8 409,366 C409,427.6 360.6,476 299,476 C237.39999999999998,476 189,427.6 189,366 C189,275.8 257.2,222.7 299,178 Z"/></g></svg>
</body></html>
